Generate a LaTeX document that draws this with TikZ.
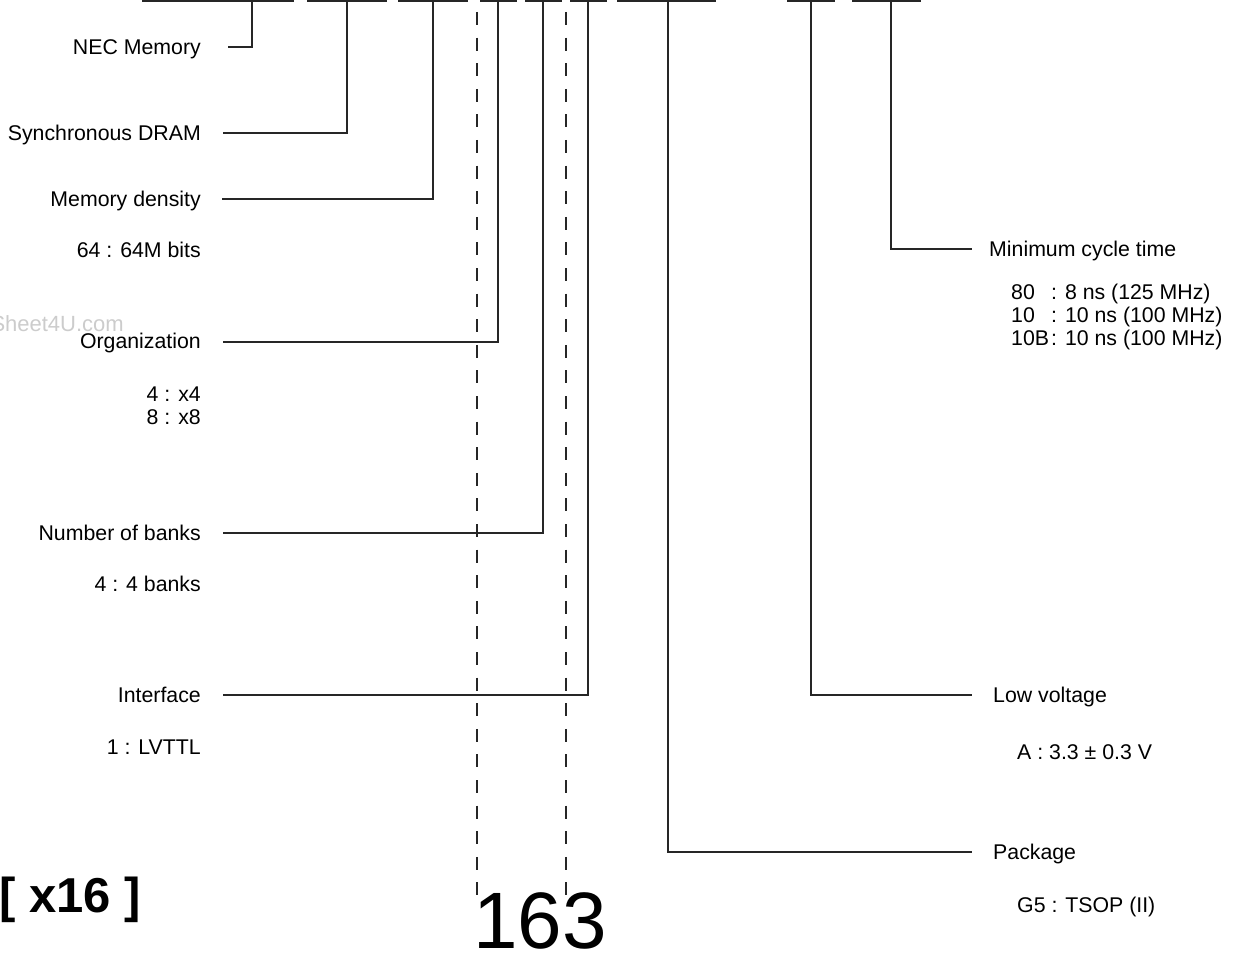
\documentclass[tikz,border=0pt]{standalone}
\usepackage{fontspec}
\setmainfont{Liberation Sans}
\begin{document}
\begin{tikzpicture}[x=1pt,y=-1pt,
  every node/.style={font=\fontsize{21.3}{25}\selectfont,inner sep=0pt,text height=15.2pt,text depth=0pt},
  lbl/.style={anchor=east},
  rlbl/.style={anchor=west},
  lead/.style={black!85,line width=1.3pt},
  guide/.style={black!85,line width=1.3pt,dash pattern=on 13pt off 12.6pt}]
\useasboundingbox (0,0) rectangle (1234,955);
\draw[lead] (142,1) -- (294,1);
\draw[lead] (307,1) -- (387,1);
\draw[lead] (398,1) -- (468,1);
\draw[lead] (480,1) -- (517,1);
\draw[lead] (525,1) -- (562,1);
\draw[lead] (570,1) -- (607,1);
\draw[lead] (617,1) -- (716,1);
\draw[lead] (787,1) -- (835,1);
\draw[lead] (852,1) -- (921,1);
\coordinate (tnec) at (252,1);
\coordinate (tsdram) at (347,1);
\coordinate (tdens) at (433,1);
\coordinate (torg) at (498,1);
\coordinate (tbank) at (543,1);
\coordinate (tintf) at (588,1);
\coordinate (tpkg) at (668,1);
\coordinate (tlowv) at (811,1);
\coordinate (tcyc) at (891,1);
\node[font=\fontsize{22}{26}\selectfont,text=black!20,anchor=base east] (wm) at (124,331) {Sheet4U.com};
\node[lbl] (nec) at (201,47) {NEC Memory};
\node[lbl] (sdram) at (201,133) {Synchronous DRAM};
\node[lbl] (dens) at (201,199) {Memory density};
\node[lbl] (dens64) at (201,250) {64 : 64M bits};
\node[lbl] (org) at (201,341) {Organization};
\node[lbl] (org4) at (201,394) {4 : x4};
\node[lbl] (org8) at (201,417) {8 : x8};
\node[lbl] (bank) at (201,533) {Number of banks};
\node[lbl] (bank4) at (201,584) {4 : 4 banks};
\node[lbl] (intf) at (201,695) {Interface};
\node[lbl] (intf1) at (201,747) {1 : LVTTL};
\node[rlbl] (cyc) at (989,249) {Minimum cycle time};
\node[rlbl] (cyc80) at (1011,292) {\makebox[40pt][l]{80}: 8 ns (125 MHz)};
\node[rlbl] (cyc10) at (1011,315) {\makebox[40pt][l]{10}: 10 ns (100 MHz)};
\node[rlbl] (cyc10b) at (1011,338) {\makebox[40pt][l]{10B}: 10 ns (100 MHz)};
\node[rlbl] (lowv) at (993,695) {Low voltage};
\node[rlbl] (lowva) at (1017,752) {A : 3.3 ± 0.3 V};
\node[rlbl] (pkg) at (993,852) {Package};
\node[rlbl] (pkgg5) at (1017,905) {G5 : TSOP (II)};
\coordinate (lnec) at (228,47);
\coordinate (lsdram) at (223,133);
\coordinate (ldens) at (222,199);
\coordinate (lorg) at (223,342);
\coordinate (lbank) at (223,533);
\coordinate (lintf) at (223,695);
\coordinate (rcyc) at (972,249);
\coordinate (rlowv) at (972,695);
\coordinate (rpkg) at (972,852);
\draw[lead] (lnec) -| (tnec);
\draw[lead] (lsdram) -| (tsdram);
\draw[lead] (ldens) -| (tdens);
\draw[lead] (lorg) -| (torg);
\draw[lead] (lbank) -| (tbank);
\draw[lead] (lintf) -| (tintf);
\draw[lead] (tcyc) |- (rcyc);
\draw[lead] (tlowv) |- (rlowv);
\draw[lead] (tpkg) |- (rpkg);
\coordinate (ga1) at (477,12);
\coordinate (ga2) at (477,903);
\coordinate (gb1) at (566,12);
\coordinate (gb2) at (566,903);
\draw[guide] (ga1) -- (ga2);
\draw[guide] (gb1) -- (gb2);
\node[font=\bfseries\fontsize{49}{55}\selectfont,anchor=base] (x16) at (70,912) {[ x16 ]};
\node[font=\fontsize{80}{90}\selectfont,anchor=base west] (num) at (473,948) {163};
\end{tikzpicture}
\end{document}
